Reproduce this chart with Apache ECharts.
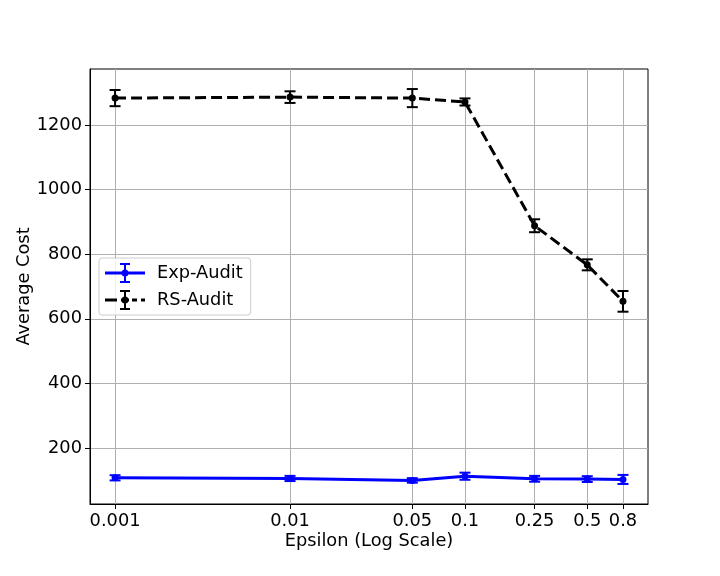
<!DOCTYPE html>
<html>
<head>
<meta charset="utf-8">
<script src="https://cdn.jsdelivr.net/npm/echarts@6/dist/echarts.min.js"></script>
<style>
  html, body { margin: 0; padding: 0; background: #fff; }
  #chart { width: 720px; height: 576px; }
</style>
</head>
<body>
<div id="chart"></div>
<script>
var epsilon = [0.001, 0.01, 0.05, 0.1, 0.25, 0.5, 0.8];
var xTickLabels = ['0.001', '0.01', '0.05', '0.1', '0.25', '0.5', '0.8'];
var yTicks = [200, 400, 600, 800, 1000, 1200];

var expMean = [108, 106, 100, 113, 105, 104, 103];
var expErr = [8, 8, 7, 11, 9, 9, 14];
var rsMean = [1283, 1286, 1283, 1271, 888, 767, 654];
var rsErr = [25, 18, 28, 11, 20, 17, 32];

var font = 'DejaVu Sans';
var fs = 17.8;

function points(mean) {
  return epsilon.map(function (x, i) { return [x, mean[i]]; });
}
function bars(mean, err) {
  return epsilon.map(function (x, i) { return [x, mean[i] - err[i], mean[i] + err[i]]; });
}

function errRender(color) {
  return function (params, api) {
    var x = api.value(0);
    var lo = api.coord([x, api.value(1)]);
    var hi = api.coord([x, api.value(2)]);
    var cap = 5.5;
    var style = { stroke: color, lineWidth: 2 };
    return {
      type: 'group',
      children: [
        { type: 'line', shape: { x1: lo[0], y1: lo[1], x2: hi[0], y2: hi[1] }, style: style },
        { type: 'line', shape: { x1: lo[0] - cap, y1: lo[1], x2: lo[0] + cap, y2: lo[1] }, style: style },
        { type: 'line', shape: { x1: hi[0] - cap, y1: hi[1], x2: hi[0] + cap, y2: hi[1] }, style: style }
      ]
    };
  };
}

var dot = 'M23.5,10a3.5,3.5 0 1,1 -7,0a3.5,3.5 0 1,1 7,0z';
var bar = 'M19,1h2v18h-2z M15,0h10v2h-10z M15,18h10v2h-10z ';
var expIcon = 'path://M0,8.5h40v3h-40z ' + bar + dot;
var rsIcon = 'path://M0,8.5h12v3h-12z M16,8.5h8v3h-8z M27,8.5h5v3h-5z M36,8.5h4v3h-4z ' + bar + dot;

var chart = echarts.init(document.getElementById('chart'));
chart.setOption({
  animation: false,
  backgroundColor: '#fff',
  textStyle: { fontFamily: font },
  grid: {
    left: 90, right: 72, top: 69, bottom: 72,
    show: true, borderColor: '#000', borderWidth: 1
  },
  legend: {
    orient: 'vertical',
    left: 99, top: 258,
    itemWidth: 40, itemHeight: 20,
    itemGap: 7,
    padding: [5, 8, 5, 6],
    borderColor: '#cccccc', borderWidth: 1, borderRadius: 3,
    backgroundColor: 'rgba(255,255,255,0.8)',
    textStyle: { fontFamily: font, fontSize: fs, color: '#000', padding: [0, 0, 0, 7] },
    data: [
      { name: 'Exp-Audit', icon: expIcon },
      { name: 'RS-Audit', icon: rsIcon }
    ]
  },
  xAxis: {
    type: 'log',
    logBase: 10,
    min: 0.000719,
    max: 1.112,
    name: 'Epsilon (Log Scale)',
    nameLocation: 'middle',
    nameGap: 28,
    nameMoveOverlap: false,
    nameTextStyle: { fontFamily: font, fontSize: fs, color: '#000' },
    axisLine: { show: true, lineStyle: { color: '#000', width: 1 } },
    axisTick: { show: true, length: 5, customValues: epsilon, lineStyle: { color: '#000' } },
    axisLabel: {
      customValues: epsilon,
      margin: 8,
      fontFamily: font, fontSize: fs, color: '#000',
      formatter: function (v) {
        var best = 0;
        for (var i = 1; i < epsilon.length; i++) {
          if (Math.abs(Math.log(epsilon[i] / v)) < Math.abs(Math.log(epsilon[best] / v))) best = i;
        }
        return xTickLabels[best];
      }
    },
    splitLine: { show: true, lineStyle: { color: '#b0b0b0', width: 1 } },
    minorTick: { show: false },
    minorSplitLine: { show: false }
  },
  yAxis: {
    type: 'value',
    min: 27,
    max: 1373,
    name: 'Average Cost',
    nameLocation: 'middle',
    nameRotate: 90,
    nameGap: 57,
    nameMoveOverlap: false,
    nameTextStyle: { fontFamily: font, fontSize: fs, color: '#000' },
    axisLine: { show: true, lineStyle: { color: '#000', width: 1 } },
    axisTick: { show: true, length: 5, customValues: yTicks, lineStyle: { color: '#000' } },
    axisLabel: {
      customValues: yTicks,
      margin: 8,
      fontFamily: font, fontSize: fs, color: '#000',
      formatter: function (v) { return String(Math.round(v)); }
    },
    splitLine: { show: true, lineStyle: { color: '#b0b0b0', width: 1 } }
  },
  series: [
    {
      name: 'Exp-Audit',
      type: 'line',
      data: points(expMean),
      color: '#0000ff',
      symbol: 'circle',
      symbolSize: 7,
      lineStyle: { width: 3, color: '#0000ff' },
      itemStyle: { color: '#0000ff' },
      z: 3
    },
    {
      name: 'Exp-Audit',
      type: 'custom',
      data: bars(expMean, expErr),
      encode: { x: 0, y: [1, 2] },
      renderItem: errRender('#0000ff'),
      z: 4
    },
    {
      name: 'RS-Audit',
      type: 'line',
      data: points(rsMean),
      color: '#000000',
      symbol: 'circle',
      symbolSize: 7,
      lineStyle: { width: 3, color: '#000', type: [11, 5] },
      itemStyle: { color: '#000' },
      z: 3
    },
    {
      name: 'RS-Audit',
      type: 'custom',
      data: bars(rsMean, rsErr),
      encode: { x: 0, y: [1, 2] },
      renderItem: errRender('#000000'),
      z: 4
    }
  ]
});
</script>
</body>
</html>
